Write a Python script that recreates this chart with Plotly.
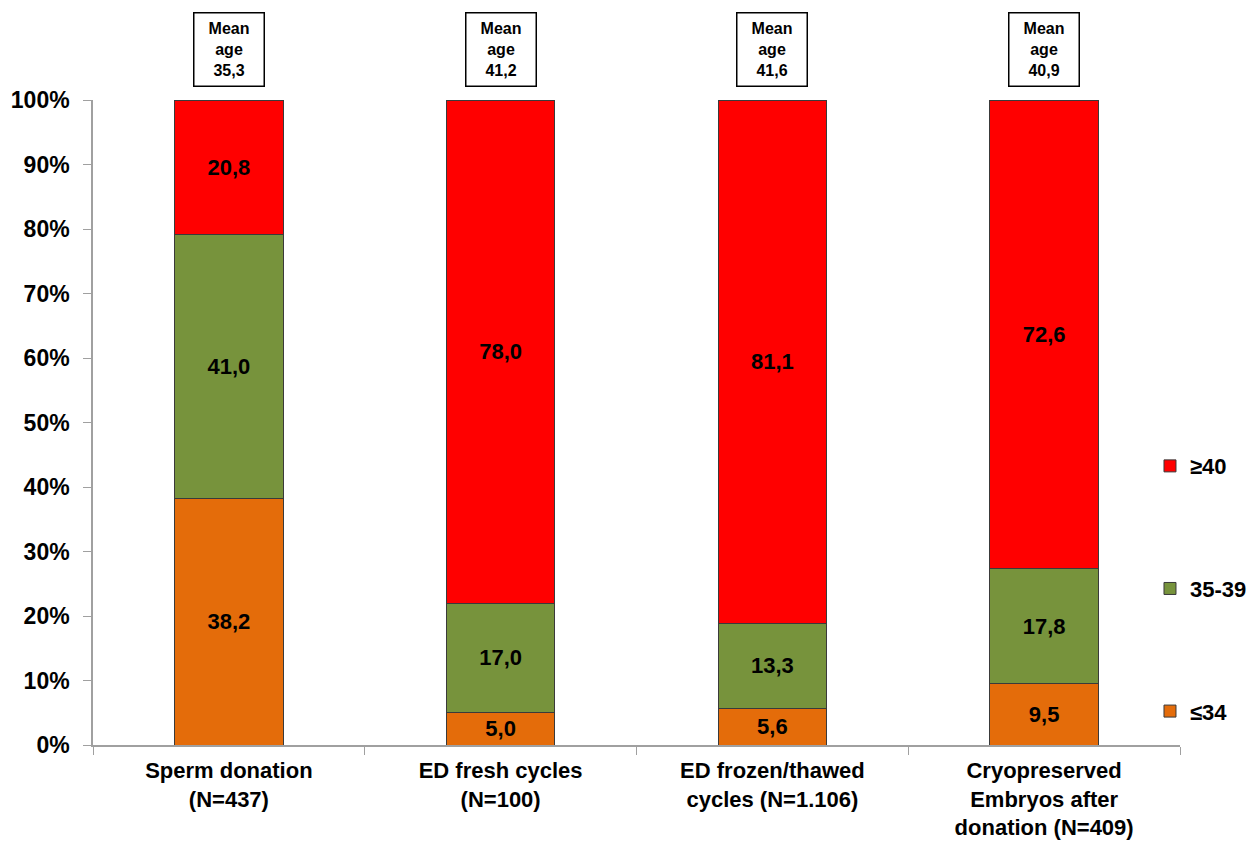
import plotly.graph_objects as go

categories = ["Sperm donation<br>(N=437)", "ED fresh cycles<br>(N=100)",
              "ED frozen/thawed<br>cycles (N=1.106)", "Cryopreserved<br>Embryos after<br>donation (N=409)"]
le34 = [38.2, 5.0, 5.6, 9.5]
a35_39 = [41.0, 17.0, 13.3, 17.8]
ge40 = [20.8, 78.0, 81.1, 72.6]
mean_age = ["35,3", "41,2", "41,6", "40,9"]
series_names = ["≤34", "35-39", "≥40"]
legend_ranks = [3, 2, 1]
colors = ["#E46C0A", "#77933C", "#FF0000"]

FONT = "Liberation Sans, Arial, sans-serif"

def fmt(v):
    return "<b>" + f"{v:.1f}".replace(".", ",") + "</b>"

fig = go.Figure()
for name, vals, col, rk in zip(series_names, [le34, a35_39, ge40], colors, legend_ranks):
    fig.add_trace(go.Bar(
        x=categories, y=[v / 100 for v in vals], name=f"<b>{name}</b>",
        marker=dict(color=col, line=dict(color="#3a3a3a", width=1)),
        text=[fmt(v) for v in vals], textposition="inside",
        insidetextanchor="middle", textangle=0,
        textfont=dict(family=FONT, size=22, color="black"),
        legendgroup=name, legendrank=rk, width=0.4, hoverinfo="skip",
    ))

for cat, m in zip(categories, mean_age):
    fig.add_annotation(
        x=cat, y=1.0, xref="x", yref="paper", yshift=13, yanchor="bottom",
        text=f"<b>Mean<br>age<br>{m}</b>", showarrow=False,
        font=dict(family=FONT, size=16, color="black"),
        bordercolor="black", borderwidth=1.5, borderpad=5, bgcolor="white",
        width=59, height=62,
    )

fig.update_layout(
    width=1250, height=843,
    margin=dict(l=93, r=70, t=100, b=98, autoexpand=False),
    barmode="stack",
    plot_bgcolor="white", paper_bgcolor="white",
    font=dict(family=FONT, size=22, color="black"),
    uniformtext=dict(minsize=22, mode="show"),
    legend=dict(
        x=0.9724, xanchor="left", y=0.465, yanchor="top",
        traceorder="grouped", tracegroupgap=91,
        font=dict(family=FONT, size=22, color="black"),
        bgcolor="rgba(0,0,0,0)", itemwidth=30,
    ),
    showlegend=True,
)
fig.update_xaxes(
    showline=True, linecolor="#a0a0a0", linewidth=1.5,
    ticks="outside", tickson="boundaries", ticklen=8, tickcolor="#a0a0a0",
    tickfont=dict(family=FONT, size=22, color="black"),
    ticklabelstandoff=5,
    tickprefix="<b>", ticksuffix="</b>", showgrid=False,
)
fig.update_yaxes(
    range=[0, 1], dtick=0.1, tickformat=".0%",
    showline=True, linecolor="#a0a0a0", linewidth=1.5,
    ticks="outside", ticklen=8, tickcolor="#a0a0a0",
    tickfont=dict(family=FONT, size=23, color="black"),
    ticklabelstandoff=9,
    tickprefix="<b>", ticksuffix="</b>", showgrid=False, zeroline=False,
)
fig.write_html("out.html", config={"displayModeBar": False},
               post_script="document.body.style.margin='0px';")
